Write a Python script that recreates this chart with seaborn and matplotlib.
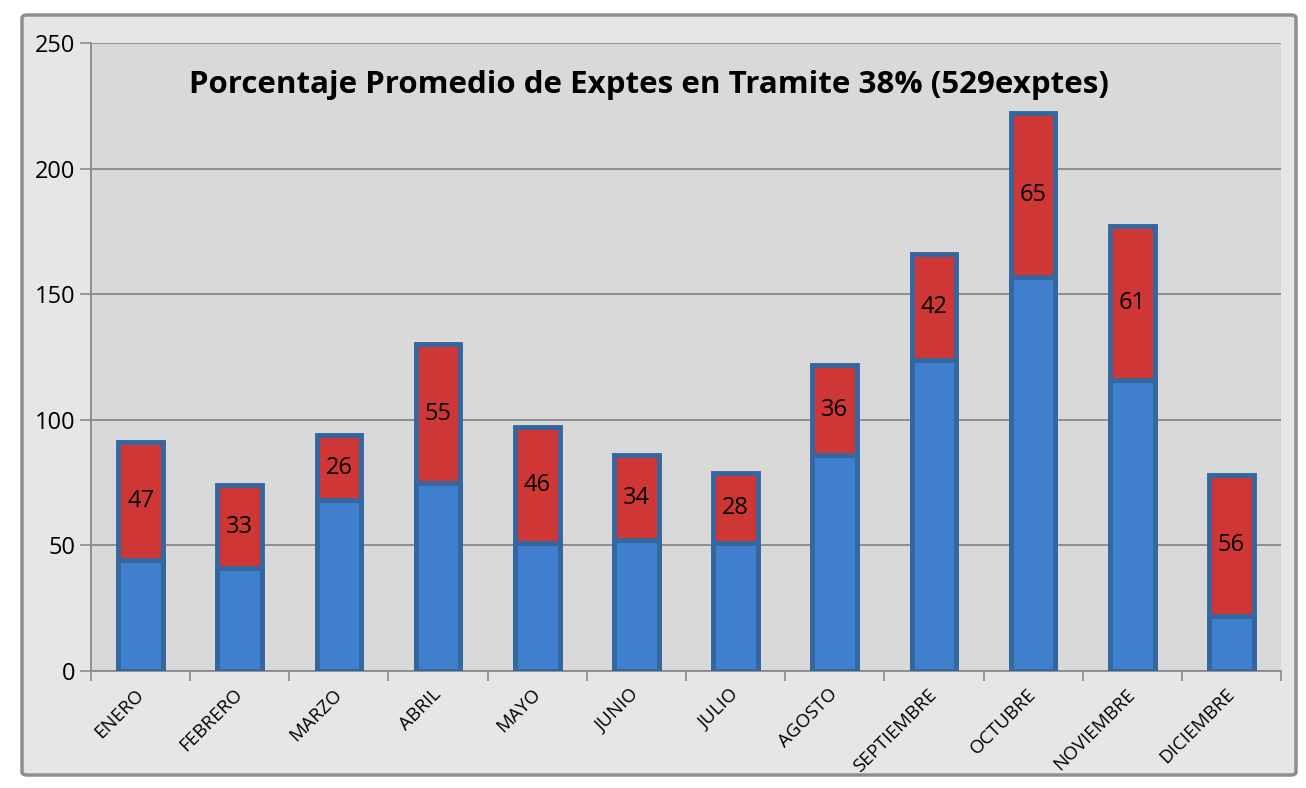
import numpy as np
import pandas as pd
import seaborn as sns
import matplotlib.pyplot as plt
from matplotlib.patches import FancyBboxPatch

# data
meses = ['ENERO', 'FEBRERO', 'MARZO', 'ABRIL', 'MAYO', 'JUNIO', 'JULIO',
         'AGOSTO', 'SEPTIEMBRE', 'OCTUBRE', 'NOVIEMBRE', 'DICIEMBRE']
resueltos = [44, 41, 68, 75, 51, 52, 51, 86, 124, 157, 116, 22]
en_tramite = [47, 33, 26, 55, 46, 34, 28, 36, 42, 65, 61, 56]
titulo = 'Porcentaje Promedio de Exptes en Tramite 38% (529exptes)'

df = pd.DataFrame({'mes': meses, 'resueltos': resueltos, 'tramite': en_tramite})
df['total'] = df['resueltos'] + df['tramite']

sns.set_style('white')
plt.rcParams['font.family'] = ['Open Sans', 'DejaVu Sans']
plt.rcParams['text.color'] = 'black'
plt.rcParams['xtick.color'] = 'black'
plt.rcParams['ytick.color'] = 'black'

fig = plt.figure(figsize=(13.06, 7.88), dpi=100)
fig.patch.set_facecolor('white')

# outer chart frame
frame = FancyBboxPatch((22 / 1306, 13 / 788), 1274 / 1306, 760 / 788,
                       boxstyle='round,pad=0,rounding_size=0.004',
                       transform=fig.transFigure, facecolor='#E6E6E6',
                       edgecolor='#8E8E8E', linewidth=2.5, zorder=-5)
fig.patches.append(frame)

ax = fig.add_axes([91 / 1306, (788 - 671) / 788, (1281 - 91) / 1306, 628 / 788])
ax.set_zorder(2)
ax.set_facecolor('#D9D9D9')

edge = '#35679F'
# red segment drawn at full height, blue on top covers the lower part
sns.barplot(data=df, x='mes', y='total', color='#CE3735', saturation=1,
            width=0.45, edgecolor=edge, linewidth=3.5, ax=ax, zorder=3)
sns.barplot(data=df, x='mes', y='resueltos', color='#3F7FCE', saturation=1,
            width=0.45, edgecolor=edge, linewidth=3.5, ax=ax, zorder=4)

for i, row in df.iterrows():
    ax.text(i, row['resueltos'] + row['tramite'] / 2, str(row['tramite']),
            ha='center', va='center', fontsize=17, color='black', zorder=6)

ax.set_ylim(0, 250)
ax.set_xlim(-0.5, 11.5)
ax.set_yticks(np.arange(0, 251, 50))
ax.yaxis.grid(True, color='#8A8A8A', linewidth=1.3)
ax.set_axisbelow(True)
ax.tick_params(axis='y', labelsize=17, length=8, width=1.2, color='#8A8A8A',
               labelcolor='black', left=True, pad=3)
ax.set_xticks(range(len(meses)))
ax.set_xticklabels(meses, rotation=45, ha='right', va='center',
                   rotation_mode='anchor', fontsize=13.5, color='black')
ax.tick_params(axis='x', length=0, pad=15)
ax.set_xticks(np.arange(-0.5, 12, 1), minor=True)
ax.tick_params(axis='x', which='minor', length=7, width=1.2, color='#8A8A8A',
               bottom=True)
ax.set_xlabel('')
ax.set_ylabel('')

for s in ['top', 'right']:
    ax.spines[s].set_visible(False)
for s in ['left', 'bottom']:
    ax.spines[s].set_color('#8A8A8A')
    ax.spines[s].set_linewidth(1.3)

ax.text(0.469, 0.957, titulo, transform=ax.transAxes, ha='center', va='top',
        fontsize=22.5, fontweight='bold', color='black', zorder=7)

fig.savefig('out.png', dpi=100)
